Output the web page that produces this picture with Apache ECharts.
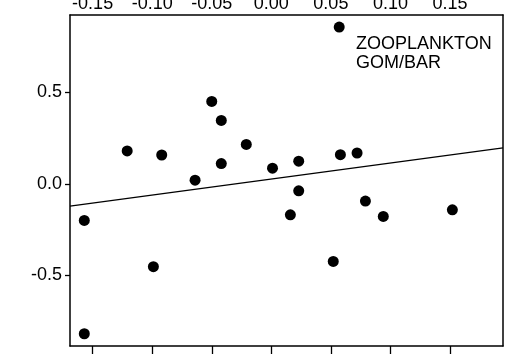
<!DOCTYPE html>
<html>
<head>
<meta charset="utf-8">
<script src="https://cdn.jsdelivr.net/npm/echarts@6/dist/echarts.min.js"></script>
<style>
  html, body { margin: 0; padding: 0; background: #fff; }
  #chart { width: 510px; height: 354px; }
</style>
</head>
<body>
<div id="chart"></div>
<script>
// Scatter of paired anomalies with least-squares fit line
var xValues = [-0.157, -0.157, -0.121, -0.099, -0.092, -0.064, -0.050, -0.042, -0.042, -0.021, 0.001,
               0.016, 0.023, 0.023, 0.052, 0.057, 0.058, 0.072, 0.079, 0.094, 0.152];
var yValues = [-0.200, -0.820, 0.180, -0.453, 0.158, 0.020, 0.451, 0.347, 0.111, 0.216, 0.086,
               -0.169, 0.124, -0.038, -0.424, 0.858, 0.160, 0.169, -0.094, -0.178, -0.142];
var xTicks = [-0.15, -0.10, -0.05, 0.00, 0.05, 0.10, 0.15];
var yTicks = [-0.5, 0.0, 0.5];
var xRange = [-0.169, 0.1945];
var yRange = [-0.887, 0.924];
var panelLabel = 'ZOOPLANKTON\nGOM/BAR';

var points = xValues.map(function (x, i) { return [x, yValues[i]]; });

// ordinary least squares fit
var n = xValues.length, mx = 0, my = 0;
for (var i = 0; i < n; i++) { mx += xValues[i]; my += yValues[i]; }
mx /= n; my /= n;
var sxy = 0, sxx = 0;
for (var j = 0; j < n; j++) {
  sxy += (xValues[j] - mx) * (yValues[j] - my);
  sxx += (xValues[j] - mx) * (xValues[j] - mx);
}
var slope = sxy / sxx, intercept = my - slope * mx;
var fitLine = xRange.map(function (x) { return [x, intercept + slope * x]; });

var FONT = 'Liberation Sans, Arial, sans-serif';
var axisLine = { show: true, onZero: false, lineStyle: { color: '#000', width: 1.5 } };

var chart = echarts.init(document.getElementById('chart'), null, { renderer: 'canvas' });
chart.setOption({
  animation: false,
  backgroundColor: '#fff',
  grid: { left: 70, right: 7, top: 15, bottom: 8, containLabel: false, outerBoundsMode: 'none' },
  xAxis: [
    {
      type: 'value', position: 'bottom', min: xRange[0], max: xRange[1],
      axisLine: axisLine, splitLine: { show: false },
      axisTick: { show: true, inside: false, length: 9, customValues: xTicks,
                  lineStyle: { color: '#000', width: 1.3 } },
      axisLabel: { show: false }
    },
    {
      type: 'value', position: 'top', min: xRange[0], max: xRange[1],
      axisLine: axisLine, splitLine: { show: false },
      axisTick: { show: false },
      axisLabel: { show: true, customValues: xTicks, margin: 2,
                   color: '#000', fontSize: 18, fontFamily: FONT,
                   formatter: function (v) { return v.toFixed(2); } }
    }
  ],
  yAxis: [
    {
      type: 'value', position: 'left', min: yRange[0], max: yRange[1],
      axisLine: axisLine, splitLine: { show: false },
      axisTick: { show: true, inside: false, length: 5, customValues: yTicks,
                  lineStyle: { color: '#000', width: 1.3 } },
      axisLabel: { show: true, customValues: yTicks, margin: 8,
                   color: '#000', fontSize: 18, fontFamily: FONT,
                   formatter: function (v) { return v.toFixed(1); } }
    },
    {
      type: 'value', position: 'right', min: yRange[0], max: yRange[1],
      axisLine: axisLine, splitLine: { show: false },
      axisTick: { show: false }, axisLabel: { show: false }
    }
  ],
  graphic: [{
    type: 'text', left: 356, top: 35,
    style: { text: panelLabel, fill: '#000', font: '18px ' + FONT, lineHeight: 19 }
  }],
  series: [
    {
      type: 'line', data: fitLine, xAxisIndex: 0, yAxisIndex: 0,
      symbol: 'none', lineStyle: { color: '#000', width: 1.4 }, silent: true
    },
    {
      type: 'scatter', data: points, xAxisIndex: 0, yAxisIndex: 0,
      symbol: 'circle', symbolSize: 11, itemStyle: { color: '#000', opacity: 1 }
    }
  ]
});
</script>
</body>
</html>
